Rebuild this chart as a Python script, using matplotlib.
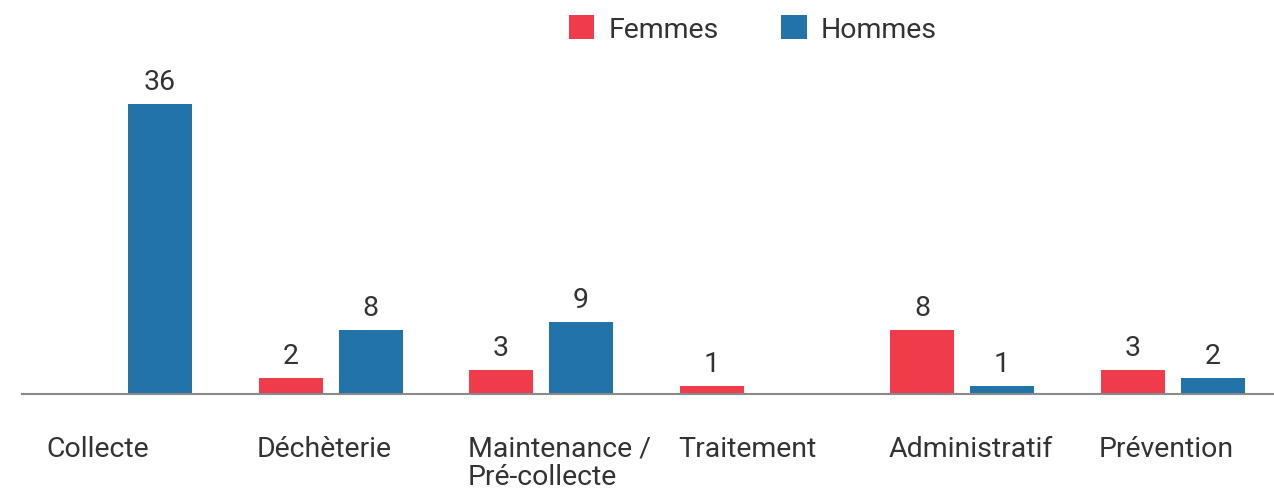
import matplotlib
matplotlib.use("Agg")
import matplotlib.pyplot as plt  # noqa: E402
import numpy as np               # noqa: E402

categories = ["Collecte", "Déchèterie", "Maintenance /\nPré-collecte",
              "Traitement", "Administratif", "Prévention"]
femmes = [0, 2, 3, 1, 8, 3]
hommes = [36, 8, 9, 0, 1, 2]

RED = "#EF3B4A"
BLUE = "#2273A8"
TXT = "#333333"
FS = 20.5

plt.rcParams["font.family"] = ["Roboto", "DejaVu Sans"]

W, H = 1274, 489
fig = plt.figure(figsize=(W / 100, H / 100), dpi=100)
# axes placed in pixel terms: axis line at y=395, 36-bar top at y=105
ax = fig.add_axes([22 / W, (H - 395) / H, 1 - 22 / W, 290 / H])

x = np.arange(len(categories))
bw = 64 / 210.5
off = 80 / 210.5

for xs, vals, col, lab in [(x, femmes, RED, "Femmes"),
                           (x + off, hommes, BLUE, "Hommes")]:
    bars = ax.bar(xs, vals, width=bw, align="edge", color=col, label=lab)
    for b, v in zip(bars, vals):
        if v == 0:
            continue
        ax.annotate(str(v), (b.get_x() + b.get_width() / 2, v),
                    xytext=(0, 10.8), textcoords="offset points",
                    ha="center", va="baseline", fontsize=FS, color=TXT)

for xi, c in zip(x, categories):
    ax.annotate(c, (xi, 0), xycoords=("data", "axes fraction"),
                xytext=(-1, -29.5), textcoords="offset points",
                ha="left", va="top", fontsize=FS, color=TXT,
                linespacing=1.05)

ax.set_xlim(-26 / 210.5, (W - 48) / 210.5)
ax.set_ylim(0, 36)
for s in ["top", "right", "left"]:
    ax.spines[s].set_visible(False)
ax.spines["bottom"].set_color("#8a8a8a")
ax.spines["bottom"].set_linewidth(1.5)
ax.set_xticks([])
ax.set_yticks([])

fig.legend(loc="center", bbox_to_anchor=(753 / W, 1 - 30 / H), ncol=2,
           frameon=False, fontsize=FS, handlelength=0.88, handleheight=0.88,
           handletextpad=0.5, columnspacing=2.2, labelcolor=TXT)

fig.savefig("out.png", dpi=100)
